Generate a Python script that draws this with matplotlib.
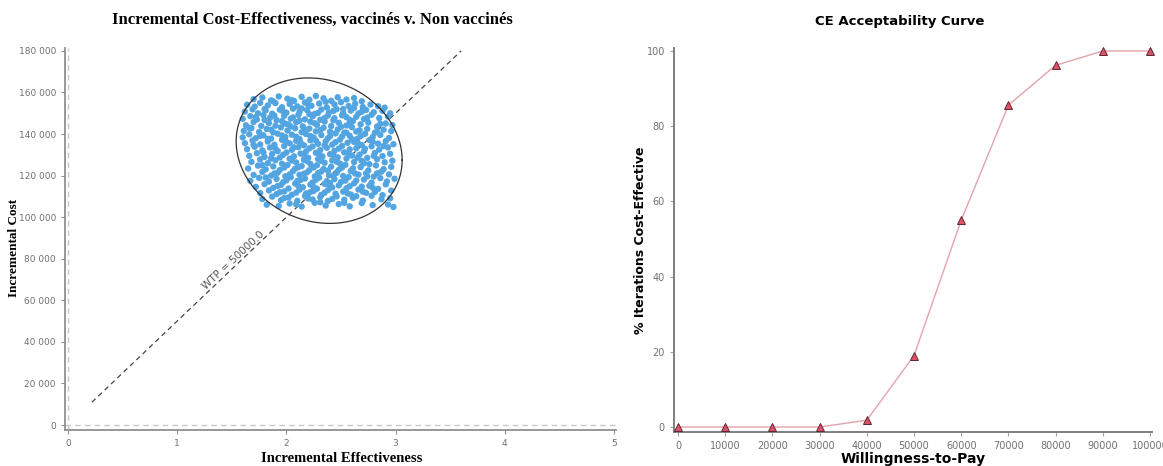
import matplotlib.pyplot as plt
from matplotlib.ticker import FixedLocator
import numpy as np

# Probabilistic sensitivity analysis: incremental effectiveness / cost pairs
eff = [1.70, 1.78, 1.86, 1.93, 2.01, 2.07, 2.14, 2.21, 2.27, 2.34, 2.41, 2.47, 2.55, 2.62, 2.69,
       1.64, 1.71, 1.76, 1.83, 1.90, 1.96, 2.03, 2.10, 2.17, 2.23, 2.30, 2.37, 2.44, 2.50, 2.57, 2.63, 2.70, 2.77, 2.84, 2.90,
       1.62, 1.69, 1.74, 1.81, 1.87, 1.94, 2.00, 2.06, 2.12, 2.19, 2.26, 2.32, 2.39, 2.46, 2.52, 2.59, 2.66, 2.73, 2.80, 2.88, 2.95,
       1.60, 1.67, 1.73, 1.79, 1.85, 1.91, 1.98, 2.04, 2.11, 2.17, 2.24, 2.31, 2.38, 2.44, 2.51, 2.58, 2.64, 2.71, 2.78, 2.85, 2.93,
       1.63, 1.70, 1.77, 1.84, 1.90, 1.96, 2.02, 2.09, 2.15, 2.22, 2.28, 2.35, 2.41, 2.48, 2.55, 2.61, 2.68, 2.75, 2.83, 2.91, 2.97,
       1.61, 1.68, 1.75, 1.82, 1.88, 1.95, 2.01, 2.08, 2.14, 2.21, 2.27, 2.34, 2.40, 2.47, 2.53, 2.60, 2.67, 2.74, 2.81, 2.89, 2.96,
       1.60, 1.66, 1.72, 1.79, 1.86, 1.92, 1.99, 2.05, 2.12, 2.18, 2.25, 2.32, 2.38, 2.45, 2.51, 2.58, 2.65, 2.72, 2.79, 2.86, 2.94,
       1.62, 1.69, 1.76, 1.83, 1.89, 1.96, 2.03, 2.09, 2.16, 2.22, 2.29, 2.36, 2.42, 2.49, 2.56, 2.62, 2.69, 2.76, 2.84, 2.91, 2.98,
       1.64, 1.71, 1.78, 1.85, 1.92, 1.98, 2.05, 2.11, 2.18, 2.24, 2.31, 2.37, 2.44, 2.51, 2.58, 2.64, 2.71, 2.78, 2.85, 2.93,
       1.66, 1.73, 1.80, 1.87, 1.94, 2.00, 2.07, 2.13, 2.20, 2.27, 2.33, 2.40, 2.47, 2.53, 2.60, 2.67, 2.74, 2.81, 2.88, 2.95,
       1.68, 1.76, 1.83, 1.90, 1.96, 2.03, 2.09, 2.16, 2.22, 2.29, 2.35, 2.42, 2.49, 2.55, 2.62, 2.69, 2.76, 2.83, 2.90, 2.97,
       1.65, 1.74, 1.81, 1.88, 1.94, 2.01, 2.08, 2.14, 2.21, 2.28, 2.34, 2.41, 2.48, 2.54, 2.61, 2.68, 2.75, 2.82, 2.89, 2.96,
       1.70, 1.78, 1.86, 1.92, 1.99, 2.06, 2.12, 2.19, 2.26, 2.32, 2.39, 2.46, 2.52, 2.59, 2.66, 2.73, 2.80, 2.87, 2.94,
       1.67, 1.75, 1.84, 1.91, 1.97, 2.04, 2.10, 2.17, 2.24, 2.30, 2.37, 2.44, 2.50, 2.57, 2.64, 2.71, 2.78, 2.86, 2.92, 2.99,
       1.72, 1.80, 1.88, 1.95, 2.02, 2.08, 2.15, 2.22, 2.28, 2.35, 2.42, 2.48, 2.55, 2.62, 2.69, 2.76, 2.84, 2.91,
       1.76, 1.84, 1.91, 1.98, 2.05, 2.12, 2.18, 2.25, 2.32, 2.38, 2.45, 2.52, 2.59, 2.66, 2.73, 2.81, 2.88, 2.96,
       1.78, 1.87, 1.95, 2.02, 2.10, 2.17, 2.24, 2.31, 2.38, 2.46, 2.53, 2.61, 2.70, 2.78, 2.87, 2.95,
       1.82, 1.93, 2.03, 2.14, 2.26, 2.36, 2.48, 2.58, 2.69, 2.79, 2.93, 2.98,
       1.88, 2.05, 2.20, 2.36, 2.52, 1.80, 1.97, 2.14, 2.29, 2.43, 2.62, 1.72, 1.89, 2.06, 2.21, 2.35, 2.55, 2.69,
       1.80, 1.99, 2.12, 2.26, 2.43, 2.58, 2.74, 1.66, 1.86, 2.04, 2.18, 2.31, 2.50, 2.64, 2.86,
       1.76, 1.96, 2.09, 2.22, 2.40, 2.55, 2.68, 2.83, 1.83, 2.00, 2.13, 2.27, 2.45, 2.60, 2.79,
       1.70, 1.90, 2.07, 2.21, 2.35, 2.48, 2.66, 2.89, 1.79, 1.97, 2.16, 2.30, 2.43, 2.57, 2.72,
       1.86, 2.05, 2.19, 2.32, 2.46, 2.65, 2.80, 1.78, 1.98, 2.11, 2.25, 2.38, 2.51, 2.71,
       1.89, 2.03, 2.16, 2.29, 2.43, 2.63, 2.83, 1.81, 2.00, 2.13, 2.27, 2.40, 2.54, 2.74,
       1.92, 2.11, 2.25, 2.39, 2.58, 2.79, 1.94, 2.09, 2.22, 2.35, 2.56, 2.70,
       1.98, 2.20, 2.42, 2.64, 2.09, 2.31, 2.53]

cost_k = [156.8, 157.6, 156.2, 158.1, 157.0, 155.9, 157.9, 156.5, 158.3, 157.2, 156.0, 157.7, 156.6, 157.3, 155.8,
          154.1, 153.2, 155.0, 153.8, 154.9, 152.9, 154.4, 153.3, 155.2, 153.6, 154.7, 152.8, 154.3, 155.3, 153.5, 154.6, 153.0, 154.2, 153.4, 152.7,
          150.8, 151.9, 150.0, 151.4, 149.8, 151.7, 150.3, 152.2, 150.6, 151.5, 149.7, 151.8, 150.4, 152.0, 150.1, 151.3, 149.9, 151.6, 150.5, 151.2, 150.0,
          147.3, 148.6, 147.0, 149.1, 147.8, 146.7, 148.8, 147.4, 149.2, 147.1, 148.5, 146.9, 148.9, 147.6, 149.0, 146.8, 148.3, 147.2, 149.3, 147.7, 148.4,
          144.2, 145.8, 143.9, 145.3, 144.0, 146.2, 144.6, 145.7, 143.7, 145.9, 144.4, 146.0, 143.8, 145.4, 144.1, 146.3, 144.7, 145.5, 143.6, 145.1, 144.3,
          141.5, 142.9, 141.0, 142.4, 140.8, 143.2, 141.7, 142.8, 140.9, 142.6, 141.3, 143.0, 141.1, 142.2, 140.7, 143.3, 141.8, 142.5, 140.6, 142.1, 141.4,
          138.4, 139.9, 138.0, 139.4, 137.8, 140.2, 138.6, 139.7, 137.6, 140.0, 138.3, 139.5, 137.9, 140.3, 138.8, 139.2, 137.7, 140.1, 138.5, 139.6, 138.1,
          135.6, 136.9, 135.0, 136.4, 134.8, 137.2, 135.5, 136.7, 134.6, 137.0, 135.3, 136.5, 134.9, 137.3, 135.8, 136.2, 134.7, 137.1, 135.4, 136.6, 135.1,
          132.7, 133.9, 132.1, 133.5, 131.8, 134.2, 132.4, 133.7, 131.6, 134.0, 132.3, 133.4, 131.9, 134.3, 132.6, 133.2, 131.7, 134.1, 132.5, 133.6,
          129.5, 130.8, 129.0, 130.4, 128.7, 131.1, 129.3, 130.6, 128.6, 131.0, 129.2, 130.3, 128.8, 131.2, 129.6, 130.1, 128.5, 130.9, 129.4, 130.5,
          126.6, 127.8, 126.0, 127.4, 125.7, 128.1, 126.3, 127.6, 125.6, 128.0, 126.2, 127.3, 125.8, 128.2, 126.5, 127.1, 125.5, 127.9, 126.4, 127.2,
          123.4, 124.8, 123.0, 124.4, 122.7, 125.1, 123.3, 124.6, 122.6, 125.0, 123.2, 124.3, 122.8, 125.2, 123.5, 124.1, 122.5, 124.9, 123.1, 124.2,
          120.3, 121.8, 120.0, 121.4, 119.7, 122.1, 120.4, 121.6, 119.6, 122.0, 120.2, 121.3, 119.8, 122.2, 120.5, 121.1, 119.5, 121.9, 120.6,
          117.5, 118.9, 117.1, 118.4, 116.8, 119.2, 117.4, 118.6, 116.7, 119.0, 117.3, 118.3, 116.9, 119.3, 117.6, 118.1, 116.6, 118.8, 117.2, 118.5,
          114.6, 115.9, 114.1, 115.5, 113.8, 116.2, 114.4, 115.7, 113.7, 116.0, 114.3, 115.3, 113.9, 116.3, 114.7, 115.1, 113.6, 115.8,
          111.6, 112.9, 111.1, 112.4, 110.8, 113.2, 111.4, 112.6, 110.7, 113.0, 111.3, 112.3, 110.9, 113.3, 111.7, 112.1, 110.6, 112.8,
          108.7, 109.9, 108.2, 109.5, 107.9, 110.2, 108.5, 109.7, 107.8, 110.0, 108.4, 109.3, 108.0, 110.3, 108.6, 109.1,
          106.0, 105.4, 106.6, 105.1, 106.9, 105.6, 106.3, 105.2, 106.8, 105.8, 106.1, 104.9,
          155.7, 156.3, 154.0, 155.5, 152.0, 152.0, 150.9, 152.3, 150.2, 151.1, 152.6, 148.2, 148.9, 148.0, 149.6, 147.7, 148.1, 150.7,
          146.8, 145.0, 146.4, 145.2, 146.6, 145.0, 147.9, 143.0, 142.1, 143.6, 142.0, 141.9, 143.5, 141.2, 144.9,
          139.1, 139.3, 138.7, 139.1, 139.0, 140.6, 139.0, 141.3, 137.7, 136.2, 135.9, 136.9, 136.1, 137.6, 136.3,
          134.8, 133.0, 133.6, 133.1, 134.6, 133.0, 135.3, 134.2, 131.1, 130.0, 130.0, 130.7, 129.9, 130.4, 132.9,
          128.3, 127.2, 127.0, 127.1, 126.7, 128.6, 129.5, 125.0, 123.9, 124.0, 123.9, 122.4, 123.9, 125.9,
          121.0, 120.6, 120.9, 121.2, 119.8, 121.0, 121.1, 119.1, 117.7, 117.9, 118.0, 116.4, 117.6, 119.6,
          115.0, 115.0, 114.5, 115.4, 114.9, 114.2, 112.0, 111.8, 112.1, 111.8, 111.4, 112.3,
          109.2, 109.0, 108.8, 110.1, 106.2, 107.2, 106.9]

cost = np.array(cost_k) * 1000

# confidence ellipse: centre, x half-range, y half-range, correlation term
ell_centre = (2.30, 132000)
ell_rx = 0.76
ell_ry = 35000
ell_shift = -4500

wtp = 50000
wtp_x = [0.22, 3.60]

# acceptability curve
wtp_values = [0, 10000, 20000, 30000, 40000, 50000, 60000, 70000, 80000, 90000, 100000]
pct_ce = [0, 0, 0, 0, 1.8, 19, 55, 85.6, 96.2, 100, 100]

W, H = 1163, 466
fig = plt.figure(figsize=(W / 100, H / 100), dpi=100)

serif = ['Liberation Serif', 'DejaVu Serif']
narrow = ['Liberation Sans Narrow', 'DejaVu Sans']


def box(x0, y0, x1, y1):
    # pixel box -> figure fraction rect
    return [x0 / W, 1 - y1 / H, (x1 - x0) / W, (y1 - y0) / H]


# ---- left: cost-effectiveness plane ----
ax1 = fig.add_axes(box(65, 48, 616, 430))
ax1.set_xlim(-0.027, 5.018)
ax1.set_ylim(-2400, 181400)
for s in ['top', 'right']:
    ax1.spines[s].set_visible(False)
for s in ['left', 'bottom']:
    ax1.spines[s].set_color('#909090')
    ax1.spines[s].set_linewidth(1.3)
ax1.axvline(0, color='#c8c8c8', lw=1, ls=(0, (4, 3)))
ax1.axhline(0, color='#c8c8c8', lw=1, ls=(0, (4, 3)))

ax1.scatter(eff, cost, s=21, color='#52a5e0', edgecolors='none', zorder=3)

t = np.linspace(0, 2 * np.pi, 200)
ell_x = ell_centre[0] + ell_rx * np.cos(t)
ell_y = ell_centre[1] + ell_shift * np.cos(t) + np.sqrt(ell_ry ** 2 - ell_shift ** 2) * np.sin(t)
ax1.plot(ell_x, ell_y, color='#333333', lw=0.9, zorder=4)

ax1.plot(wtp_x, [wtp * v for v in wtp_x], color='#444444', lw=0.9, ls=(0, (4, 3)), zorder=2)
ax1.text(1.55, 1.55 * wtp, 'WTP = 50000.0', rotation=43, rotation_mode='anchor',
         ha='center', va='bottom', fontsize=7.5, color='#555555', family=narrow)

yt = list(range(0, 180001, 20000))
ax1.yaxis.set_major_locator(FixedLocator(yt))
ax1.set_yticklabels([f'{v:,}'.replace(',', ' ') for v in yt])
ax1.set_xticks([0, 1, 2, 3, 4, 5])
ax1.tick_params(colors='#909090', labelcolor='#707070', labelsize=6.5, length=3, width=0.8)
for lab in ax1.get_xticklabels() + ax1.get_yticklabels():
    lab.set_family(narrow)

fig.text(312 / W, 1 - 20 / H, 'Incremental Cost-Effectiveness, vaccinés v. Non vaccinés',
         ha='center', va='center', fontsize=12, fontweight='bold', family=serif)
fig.text(342 / W, 1 - 459 / H, 'Incremental Effectiveness', ha='center', va='center',
         fontsize=10.5, fontweight='bold', family=serif)
fig.text(14 / W, 1 - 248 / H, 'Incremental Cost', ha='center', va='center', rotation=90,
         fontsize=9.5, fontweight='bold', family=serif)

# ---- right: acceptability curve ----
ax2 = fig.add_axes(box(674, 48, 1152, 432))
ax2.set_xlim(-850, 100420)
ax2.set_ylim(-1.33, 100.8)
for s in ['top', 'right']:
    ax2.spines[s].set_visible(False)
for s in ['left', 'bottom']:
    ax2.spines[s].set_color('#808080')
    ax2.spines[s].set_linewidth(1.4)

ax2.plot(wtp_values, pct_ce, color='#e3a3ab', lw=1, zorder=2)
ax2.plot(wtp_values, pct_ce, ls='none', marker='^', ms=6, mfc='#e0506a', mec='#5a2a30',
         mew=0.7, clip_on=False, zorder=3)

ax2.set_xticks(wtp_values)
ax2.set_xticklabels([str(v) for v in wtp_values])
ax2.set_yticks([0, 20, 40, 60, 80, 100])
ax2.tick_params(colors='#a0a0a0', labelcolor='#707070', labelsize=7, length=3, width=0.8)

fig.text(900 / W, 1 - 22 / H, 'CE Acceptability Curve', ha='center', va='center',
         fontsize=9.5, fontweight='bold')
fig.text(913 / W, 1 - 459 / H, 'Willingness-to-Pay', ha='center', va='center',
         fontsize=10, fontweight='bold')
fig.text(641 / W, 1 - 240 / H, '% Iterations Cost-Effective', ha='center', va='center',
         rotation=90, fontsize=9, fontweight='bold')

fig.savefig('out.png', dpi=100)
